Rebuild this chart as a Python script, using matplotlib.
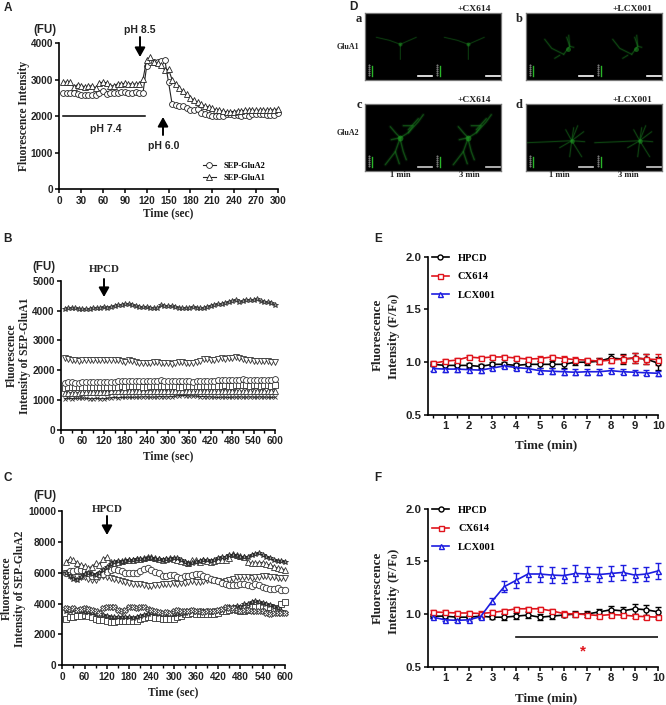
import numpy as np
import matplotlib
matplotlib.use('Agg')
import matplotlib.pyplot as plt
from matplotlib.ticker import MultipleLocator

W, H = 666, 705
SANS = 'Liberation Sans'
SERIF = 'Liberation Serif'

# panel A
a_glua2 = [2650,2630,2640,2630,2620,2580,2570,2580,2580,2580,2640,2700,2620,2640,2640,2630,2670,2670,2650,2650,2660,2650,2650,
           3370,3500,3480,3500,3510,3540,2940,2330,2320,2280,2280,2230,2170,2180,2200,2080,2060,2040,2020,2000,2000,2010,
           2050,2060,2040,2030,2020,2030,2010,2060,2060,2060,2050,2040,2030,2030,2080]
a_glua1 = [2930,2940,2930,2800,2870,2840,2810,2820,2840,2780,2920,2930,2920,2830,2840,2890,2890,2900,2890,2890,2880,2890,3020,
           3550,3620,3490,3450,3400,3260,3290,3000,2880,2780,2680,2600,2510,2440,2380,2330,2280,2260,2220,2180,2160,2140,
           2120,2130,2130,2150,2150,2160,2170,2170,2160,2170,2160,2170,2170,2180,2200]

# panel B
b_star = [4060,4080,4090,4080,4060,4040,4050,4060,4080,4100,4100,4110,4100,4130,4150,4200,4190,4210,4230,4190,4160,4110,4110,4120,
          4100,4090,4080,4170,4160,4150,4150,4130,4100,4090,4080,4090,4120,4100,4070,4090,4130,4160,4190,4210,4220,4240,4300,
          4330,4350,4280,4310,4370,4360,4350,4390,4320,4290,4280,4250,4200]
b_tridown = [2420,2370,2350,2340,2320,2330,2340,2340,2330,2340,2330,2340,2350,2360,2340,2340,2320,2290,2340,2310,2270,2250,2240,
             2230,2260,2270,2280,2260,2240,2230,2220,2250,2280,2270,2250,2240,2250,2280,2300,2380,2370,2340,2340,2380,2400,
             2390,2400,2420,2430,2400,2370,2350,2330,2320,2320,2310,2300,2300,2290,2280]
b_circle = [1590,1600,1610,1580,1590,1610,1620,1610,1600,1610,1600,1600,1610,1620,1620,1630,1640,1650,1640,1650,1640,1640,1630,1650,
            1650,1640,1650,1660,1650,1640,1650,1650,1640,1630,1640,1630,1620,1640,1650,1650,1640,1630,1640,1670,1680,1670,1660,
            1680,1690,1690,1700,1690,1680,1690,1670,1680,1670,1690,1680,1700]
b_square = [1420,1440,1450,1440,1430,1440,1450,1440,1430,1440,1450,1450,1440,1440,1450,1450,1460,1450,1460,1460,1470,1460,1450,1450,
            1460,1470,1470,1460,1460,1470,1470,1460,1450,1450,1460,1470,1470,1460,1470,1480,1470,1470,1480,1480,1490,1500,1490,
            1490,1500,1500,1510,1500,1490,1500,1500,1490,1510,1500,1490,1500]
b_triup = [1230,1240,1250,1240,1250,1260,1260,1270,1260,1270,1280,1270,1280,1290,1300,1300,1290,1300,1310,1300,1310,1300,1290,1300,
           1310,1300,1300,1310,1320,1310,1300,1300,1310,1320,1310,1300,1300,1290,1300,1310,1300,1300,1290,1300,1310,1300,1310,
           1320,1310,1300,1300,1310,1300,1290,1300,1310,1300,1290,1300,1290]
b_cross = [1050,1060,1050,1060,1060,1070,1060,1050,1050,1060,1050,1050,1060,1080,1090,1080,1090,1090,1100,1090,1100,1100,1110,1110,
           1100,1100,1110,1120,1110,1110,1120,1130,1150,1160,1150,1140,1140,1130,1120,1120,1110,1110,1100,1090,1100,1100,1090,
           1100,1100,1110,1100,1100,1110,1100,1100,1110,1100,1100,1090,1100]

# panel C
c_star = [5950,5800,5600,5550,5700,5900,5950,5900,5850,5950,6200,6400,6550,6700,6750,6700,6780,6820,6850,6900,6880,6900,6950,6950,
          6900,6880,6850,6900,6900,6950,6950,6850,6700,6550,6600,6700,6750,6800,6800,6750,6850,6950,7000,7050,7150,7150,7100,
          7050,7000,7050,7150,7200,7250,7150,7050,6950,6800,6750,6750,6700]
c_triup = [6700,6900,6800,6650,6500,6450,6300,6400,6600,6500,6900,7000,6700,6650,6700,6750,6800,6850,6850,6900,6900,6950,7050,7000,
           6950,6900,6850,6900,6950,6900,6850,6750,6700,6650,6800,6800,6700,6800,6750,6700,6750,6800,6800,6850,6950,7200,7150,
           7100,7000,6700,6600,6600,6650,6650,6550,6500,6400,6300,6250,6200]
c_circle = [5950,6100,6100,6150,6150,6100,6000,5800,5800,5900,5900,6050,6150,6250,6200,6100,6000,6000,5950,5950,6100,6250,6300,6200,
            6050,5950,5800,5800,5850,5850,5700,5650,5800,5800,5850,5900,5900,5800,5700,5600,5550,5450,5350,5300,5200,5200,5200,
            5250,5250,5200,5150,5250,5200,5100,5000,4950,4950,5000,4900,4850]
c_tridown = [6000,5800,5800,5700,5750,5700,5600,5550,5500,5700,5800,5700,5650,5600,5500,5450,5400,5350,5300,5300,5250,5200,5150,5150,
             5200,5200,5250,5300,5300,5350,5300,5350,5350,5400,5450,5400,5400,5450,5500,5550,5500,5450,5400,5450,5500,5600,5700,
             5750,5700,5700,5650,5700,5750,5800,5800,5750,5700,5650,5650,5650]
c_cross = [3700,3650,3700,3600,3650,3700,3650,3600,3500,3400,3700,3800,3800,3750,3600,3500,3600,3800,3800,3700,3750,3800,3650,3600,
           3500,3450,3400,3450,3400,3500,3600,3550,3500,3550,3600,3550,3500,3450,3500,3500,3550,3600,3650,3750,3700,3700,3600,
           3550,3600,3600,3550,3500,3500,3500,3400,3350,3400,3400,3400,3400]
c_dark = [3500,3500,3600,3550,3500,3450,3450,3400,3300,3300,3250,3200,3150,3150,3150,3100,3100,3100,3050,3100,3200,3250,3300,3400,
          3400,3350,3350,3300,3350,3300,3300,3300,3400,3450,3500,3450,3500,3500,3500,3450,3500,3550,3600,3700,3750,3800,3850,
          3800,3950,4000,4100,4150,4100,4050,3950,3900,3800,3700,3500,3400]
c_square = [3000,3100,3150,3200,3200,3250,3200,3100,3000,2950,2950,2900,2800,2800,2850,2850,2900,2900,2900,2900,3000,3050,3100,3100,
            3050,3050,3000,3000,3000,3000,3100,3200,3300,3350,3400,3350,3300,3350,3300,3300,3350,3400,3500,3550,3600,3650,3600,
            3500,3500,3600,3800,3800,3850,3800,3750,3750,3700,3700,3950,4100]

# panels E and F, every 30 s
minutes = [0.5,1,1.5,2,2.5,3,3.5,4,4.5,5,5.5,6,6.5,7,7.5,8,8.5,9,9.5,10]
e_hpcd = [.98,.97,.97,.97,.96,.98,.98,.97,.98,.98,.98,.98,1.0,1.0,1.01,1.04,1.03,1.04,1.03,.99]
e_hpcd_err = [.02,.02,.02,.02,.02,.02,.02,.02,.02,.03,.03,.03,.03,.03,.03,.04,.05,.05,.05,.06]
e_cx = [.99,1.01,1.02,1.05,1.04,1.05,1.05,1.04,1.03,1.035,1.05,1.035,1.025,1.02,1.01,1.02,1.03,1.04,1.03,1.025]
e_cx_err = [.02,.02,.02,.02,.02,.02,.02,.02,.02,.02,.02,.02,.02,.02,.03,.03,.04,.05,.05,.05]
e_lcx = [.94,.935,.935,.93,.925,.945,.965,.95,.94,.92,.915,.91,.905,.91,.91,.92,.91,.905,.90,.895]
e_lcx_err = [.02,.025,.025,.025,.025,.02,.02,.025,.025,.025,.03,.03,.03,.03,.03,.025,.025,.025,.025,.025]

f_hpcd = [.98,.98,.97,.97,.98,.97,.97,.98,.99,.97,.98,.99,1.0,1.0,1.02,1.04,1.03,1.05,1.04,1.02]
f_hpcd_err = [.02,.02,.02,.02,.02,.02,.03,.03,.03,.03,.03,.02,.03,.03,.03,.04,.04,.05,.05,.05]
f_cx = [1.02,1.015,1.01,1.01,1.005,1.015,1.03,1.05,1.05,1.05,1.03,1.005,1.0,.995,.985,.995,.99,.98,.975,.97]
f_cx_err = [.02,.02,.02,.02,.02,.02,.02,.02,.02,.02,.02,.02,.02,.02,.02,.02,.02,.02,.02,.02]
f_lcx = [.97,.945,.94,.945,.975,1.125,1.26,1.32,1.38,1.38,1.37,1.365,1.385,1.38,1.375,1.385,1.395,1.37,1.38,1.41]
f_lcx_err = [.01,.01,.015,.015,.02,.03,.055,.07,.075,.075,.075,.075,.08,.07,.07,.07,.07,.07,.07,.075]

# traced neuron branches for panel D, pixels inside one half of a micrograph
neuron_a = [[(11,24),(24,27),(35,31)], [(35,31),(51,24)], [(35,31),(35,46)]]
neuron_b = [[(19,26),(26,35),(38,41)], [(38,41),(44,33),(43,22)], [(44,33),(48,34)], [(29,45),(34,42)], [(44,33),(41,24)]]
neuron_c = [[(25,23),(31,30),(35,34)], [(35,34),(43,29),(53,18),(58,11)], [(43,26),(53,15)], [(35,34),(30,48),(20,61)],
            [(35,36),(38,48),(41,56)], [(35,34),(26,36)], [(30,48),(34,60)], [(43,29),(48,22),(38,22)]]
neuron_d = [[(1,39),(25,38),(46,37)], [(46,37),(48,24)], [(46,37),(58,28)], [(46,37),(59,38)], [(46,37),(56,53)],
            [(46,37),(44,53)], [(46,37),(34,44)], [(46,37),(40,26)], [(46,37),(52,22)]]
soma_a = (35, 31)
soma_b = (42, 36)
soma_c = (35, 34)
soma_d = (46, 37)


def make_axes(left, right, top, bottom):
    return fig.add_axes([left / W, 1 - bottom / H, (right - left) / W, (bottom - top) / H])


def style_axes(ax, size):
    ax.spines['top'].set_visible(False)
    ax.spines['right'].set_visible(False)
    ax.spines['left'].set_linewidth(1.2)
    ax.spines['bottom'].set_linewidth(1.2)
    ax.tick_params(axis='both', which='major', width=1.1, length=3, labelsize=size, pad=1.5)
    ax.tick_params(axis='both', which='minor', width=1.0, length=2)
    for lab in ax.get_xticklabels() + ax.get_yticklabels():
        lab.set_family(SANS)
        lab.set_weight('bold')
        lab.set_color('#222222')


def traces(ax, series):
    for y, marker, face, edge, size in series:
        x = np.linspace(10, 600, len(y))
        ax.plot(x, y, color='#222222', lw=0.8, marker=marker, mfc=face, mec=edge, mew=0.6, ms=size, clip_on=False)


def label(x, y, s, size=8.3, font=SERIF, rotation=0, color='#222222'):
    ov.text(x, y, s, fontsize=size, family=font, weight='bold', rotation=rotation, ha='center', va='center', color=color)


def arrow(x, y0, y1):
    ov.annotate('', xy=(x, y1), xytext=(x, y0),
                arrowprops=dict(arrowstyle='-|>,head_width=0.28,head_length=0.5', color='black', lw=1.4,
                                mutation_scale=11, shrinkA=0, shrinkB=0))


def micrograph(left, top, branches, soma, glow, width, scale_color):
    ax = make_axes(left, left + 136, top, top + 67)
    ax.set_xlim(0, 136)
    ax.set_ylim(67, 0)
    ax.set_facecolor('black')
    ax.set_xticks([])
    ax.set_yticks([])
    for sp in ax.spines.values():
        sp.set_color('#777777')
        sp.set_linewidth(0.9)
    for shift in (0, 68):
        for br in branches:
            xs = [p[0] + shift for p in br]
            ys = [p[1] for p in br]
            ax.plot(xs, ys, color='#14601a', lw=width * 2.6, alpha=0.16 * glow, solid_capstyle='round')
            ax.plot(xs, ys, color='#1a7a1f', lw=width, alpha=0.55 * glow, solid_capstyle='round')
        ax.plot(soma[0] + shift, soma[1], 'o', color='#22a526', ms=3.2 * width + 1, alpha=0.55 * glow, mew=0)
        # intensity scale and scale bar
        ax.plot([7 + shift, 7 + shift], [53, 63], color='#2ab52a', lw=1.0)
        ax.plot([4 + shift] * 6, [52, 54, 56, 58, 60, 62], ls='none', marker='s', ms=0.5, color='#777777')
        ax.plot([53 + shift, 67 + shift], [63, 63], color=scale_color, lw=1.2)
    return ax


fig = plt.figure(figsize=(W / 100, H / 100), dpi=100)
plt.rcParams['font.family'] = SANS

# A
ax_a = make_axes(59.3, 277.7, 43.3, 189.3)
x_a = np.linspace(5, 300, len(a_glua2))
ax_a.plot(x_a, a_glua2, color='#222222', lw=0.8, marker='o', mfc='white', mec='#222222', mew=0.6, ms=4.2,
          label='SEP-GluA2', clip_on=False)
ax_a.plot(x_a, a_glua1, color='#222222', lw=0.8, marker='^', mfc='white', mec='#222222', mew=0.6, ms=4.2,
          label='SEP-GluA1', clip_on=False)
ax_a.plot([5, 118], [2000, 2000], color='black', lw=1.1)
ax_a.set_xlim(0, 300)
ax_a.set_ylim(0, 4000)
ax_a.set_xticks(range(0, 301, 30))
ax_a.set_yticks(range(0, 4001, 1000))
style_axes(ax_a, 7.2)
leg_a = ax_a.legend(loc='lower right', bbox_to_anchor=(0.98, 0.0), frameon=False, handlelength=1.5, handletextpad=1.0,
                    labelspacing=0.45, prop=dict(family=SERIF, weight='bold', size=6))

# B
ax_b = make_axes(61, 275, 280.7, 430)
traces(ax_b, [(b_cross, 'x', 'none', '#333333', 3.2), (b_triup, '^', 'white', '#333333', 4.0),
              (b_square, 's', 'white', '#333333', 3.8), (b_circle, 'o', 'white', '#333333', 4.2),
              (b_tridown, 'v', 'white', '#333333', 4.2), (b_star, '*', '#999999', '#333333', 4.2)])
ax_b.set_xlim(0, 600)
ax_b.set_ylim(0, 5000)
ax_b.set_xticks(range(0, 601, 60))
ax_b.xaxis.set_minor_locator(MultipleLocator(30))
ax_b.set_yticks(range(0, 5001, 1000))
style_axes(ax_b, 7.2)

# C
ax_c = make_axes(62.3, 285, 511, 665.3)
traces(ax_c, [(c_square, 's', 'white', '#333333', 4.0), (c_dark, '*', '#999999', '#222222', 3.8),
              (c_cross, 'X', 'white', '#333333', 3.8), (c_tridown, 'v', 'white', '#333333', 4.2),
              (c_circle, 'o', 'white', '#333333', 4.6), (c_triup, '^', 'white', '#333333', 4.4),
              (c_star, '*', '#999999', '#222222', 4.0)])
ax_c.set_xlim(0, 600)
ax_c.set_ylim(0, 10000)
ax_c.set_xticks(range(0, 601, 60))
ax_c.xaxis.set_minor_locator(MultipleLocator(30))
ax_c.set_yticks(range(0, 10001, 2000))
style_axes(ax_c, 7.2)


# E and F
def time_panel(top, bottom, hpcd, hpcd_err, cx, cx_err, lcx, lcx_err, anchor):
    ax = make_axes(427.7, 658.3, top, bottom)
    rows = [(hpcd, hpcd_err, 'black', 'o', 'HPCD'), (cx, cx_err, '#e0141c', 's', 'CX614'), (lcx, lcx_err, '#1c1ce0', '^', 'LCX001')]
    lines = []
    for y, err, col, mk, name in rows:
        eb = ax.errorbar(minutes, y, yerr=err, color=col, lw=1.2, elinewidth=1.0, capsize=2.2, capthick=1.0, marker=mk,
                         mfc='white', mec=col, mew=1.0, ms=3.6, clip_on=False)
        eb[0].set_label(name)
        lines.append(eb[0])
    ax.set_xlim(0.27, 10)
    ax.set_ylim(0.5, 2.0)
    ax.set_xticks(range(1, 11))
    ax.xaxis.set_minor_locator(MultipleLocator(0.5))
    ax.set_yticks([0.5, 1.0, 1.5, 2.0])
    style_axes(ax, 8.2)
    ax.legend(handles=lines, loc='upper left', bbox_to_anchor=anchor, frameon=False, handlelength=1.6, handletextpad=0.85,
              labelspacing=0.85, borderpad=0, borderaxespad=0, prop=dict(family=SERIF, weight='bold', size=7.6))
    return ax


ax_e = time_panel(256.7, 415, e_hpcd, e_hpcd_err, e_cx, e_cx_err, e_lcx, e_lcx_err, (0.017, 1.02))
ax_f = time_panel(508.7, 666.7, f_hpcd, f_hpcd_err, f_cx, f_cx_err, f_lcx, f_lcx_err, (0.02, 1.02))
ax_f.plot([4, 10], [0.78, 0.78], color='#111111', lw=1.2)

# D
micrograph(365.3, 13.3, neuron_a, soma_a, 0.8, 0.6, 'white')
micrograph(525.7, 13.3, neuron_b, soma_b, 0.9, 0.8, 'white')
micrograph(365.3, 103.7, neuron_c, soma_c, 1.0, 1.0, '#cccccc')
micrograph(525.7, 103.7, neuron_d, soma_d, 0.9, 0.7, '#cccccc')

# everything placed by pixel on the page
ov = fig.add_axes([0, 0, 1, 1], facecolor='none', zorder=10)
ov.set_xlim(0, W)
ov.set_ylim(H, 0)
ov.axis('off')

for x, y, s in [(8, 8, 'A'), (7, 239, 'B'), (8, 478, 'C'), (353, 7, 'D'), (378, 239, 'E'), (378, 478, 'F')]:
    label(x, y, s, size=8.5, font=SANS)

label(45, 30, '(FU)', 8.3, SANS)
label(140, 30, 'pH 8.5', 7.5, SANS)
label(106, 129, 'pH 7.4', 7.5, SANS)
label(164, 146, 'pH 6.0', 7.5, SANS)
arrow(140, 37, 57)
arrow(163, 135, 117)
label(24, 116, 'Fluorescence Intensity', rotation=90)
label(168, 213, 'Time (sec)')

label(44, 267, '(FU)', 8.3, SANS)
label(104, 270, 'HPCD', 7.8)
arrow(104, 279, 297)
label(12, 355, 'Fluorescence', rotation=90)
label(25, 356, 'Intensity of SEP-GluA1', rotation=90)
label(168, 456, 'Time (sec)')

label(45, 496, '(FU)', 8.3, SANS)
label(107, 509, 'HPCD', 7.8)
arrow(107, 516, 535)
label(6.5, 588, 'Fluorescence', rotation=90)
label(20, 589, 'Intensity of SEP-GluA2', rotation=90)
label(173, 692, 'Time (sec)')

label(378, 335, 'Fluorescence', 9.4, rotation=90)
label(394, 337, 'Intensity (F/F$\\mathregular{_0}$)', 9.4, rotation=90)
label(546, 445, 'Time (min)', 9.4)
label(378, 588, 'Fluorescence', 9.4, rotation=90)
label(394, 592, 'Intensity (F/F$\\mathregular{_0}$)', 9.4, rotation=90)
label(546, 698, 'Time (min)', 9.4)
label(583, 651, '*', 11, SANS, color='#e0141c')

for x, y, s in [(359, 19, 'a'), (519, 19, 'b'), (359, 105, 'c'), (519, 105, 'd')]:
    label(x, y, s, 9)
for y in (9, 100):
    label(474, y, '+CX614', 6.8)
    label(632, y, '+LCX001', 6.8)
label(348, 47, 'GluA1', 5.8)
label(348, 133, 'GluA2', 5.8)
for x, s in [(400, '1 min'), (469, '3 min'), (559, '1 min'), (628, '3 min')]:
    label(x, 175, s, 6.2)

fig.savefig('out.png', dpi=100)
